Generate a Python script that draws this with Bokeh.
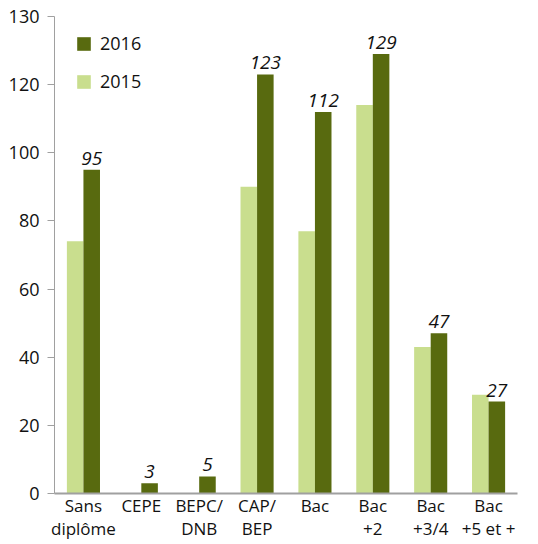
from bokeh.plotting import figure
from bokeh.models import FactorRange, Range1d, FixedTicker, Legend, LegendItem, ColumnDataSource
from bokeh.transform import dodge
from bokeh.core.properties import value
from bokeh.embed import file_html
from bokeh.resources import INLINE

categories = ["Sans\ndiplôme", "CEPE", "BEPC/\nDNB", "CAP/\nBEP", "Bac", "Bac\n+2", "Bac\n+3/4", "Bac\n+5 et +"]
v2015 = [74, 0, 0, 90, 77, 114, 43, 29]
v2016 = [95, 3, 5, 123, 112, 129, 47, 27]
y_ticks = [0, 20, 40, 60, 80, 100, 120, 140]
y_tick_labels = ["0", "20", "40", "60", "80", "100", "120", "130"]

DARK = "#586a0f"
LIGHT = "#c9de8e"
FONT = "Open Sans"

src = ColumnDataSource(dict(cat=categories, v2015=v2015, v2016=v2016,
                            t2016=[str(v) for v in v2016]))

p = figure(x_range=FactorRange(*categories, range_padding=0), y_range=Range1d(0, 140),
           width=527, height=542, output_backend="svg", toolbar_location=None,
           min_border_left=54, min_border_right=10, min_border_top=16, min_border_bottom=48)
p.outline_line_color = None
p.grid.grid_line_color = None

r15 = p.vbar(x=dodge("cat", -0.143, range=p.x_range), top="v2015", width=0.286, bottom=0,
             source=src, fill_color=LIGHT, line_color=None)
r16 = p.vbar(x=dodge("cat", 0.143, range=p.x_range), top="v2016", width=0.286, bottom=0,
             source=src, fill_color=DARK, line_color=None)

p.text(x=dodge("cat", 0.143, range=p.x_range), y="v2016", text="t2016", source=src,
       text_align="center", text_baseline="bottom", y_offset=-5,
       text_font=value(FONT), text_font_size="19px", text_font_style="italic", text_color="#111111")

# y axis
p.yaxis.ticker = FixedTicker(ticks=y_ticks)
p.yaxis.major_label_overrides = {t: l for t, l in zip(y_ticks, y_tick_labels)}
p.yaxis.axis_line_color = "#a0a0a0"
p.yaxis.major_tick_line_color = "#a0a0a0"
p.yaxis.major_tick_out = 7
p.yaxis.major_tick_in = 0
p.yaxis.minor_tick_line_color = None
p.yaxis.major_label_standoff = 8
p.yaxis.major_label_text_font = FONT
p.yaxis.major_label_text_font_size = "18px"
p.yaxis.major_label_text_color = "#111111"

# x axis
p.xaxis.axis_line_color = "#a0a0a0"
p.xaxis.axis_line_width = 2
p.xaxis.major_tick_line_color = None
p.xaxis.major_tick_out = 0
p.xaxis.major_tick_in = 0
p.xaxis.minor_tick_line_color = None
p.xaxis.major_label_standoff = 0
p.xaxis.major_label_text_font = FONT
p.xaxis.major_label_text_font_size = "17px"
p.xaxis.major_label_text_color = "#111111"
p.xaxis.major_label_text_line_height = 1.0

legend = Legend(items=[LegendItem(label="2016", renderers=[r16]),
                       LegendItem(label="2015", renderers=[r15])],
                location=(21, 400), margin=0, padding=0,
                glyph_width=17, glyph_height=17, label_standoff=8, spacing=14,
                label_text_font=FONT, label_text_font_size="18px", label_text_color="#111111",
                background_fill_alpha=0, border_line_color=None)
p.add_layout(legend)

open("out.html", "w").write(file_html(p, INLINE))
